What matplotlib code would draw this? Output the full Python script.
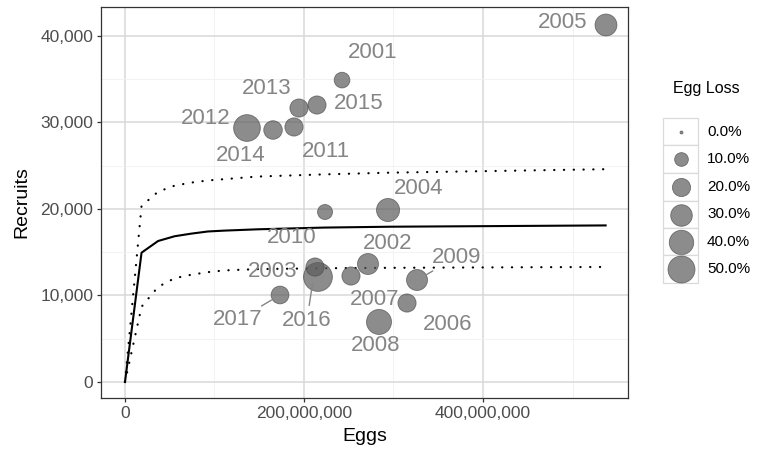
import matplotlib
matplotlib.use("Agg")
import matplotlib.pyplot as plt
from matplotlib.patches import Rectangle
from matplotlib.ticker import FuncFormatter, MultipleLocator
import numpy as np

plt.rcParams["font.family"] = ["Liberation Sans", "DejaVu Sans"]

# stock-recruit observations by year
years = [2001, 2002, 2003, 2004, 2005, 2006, 2007, 2008, 2009,
         2010, 2011, 2012, 2013, 2014, 2015, 2016, 2017]
eggs = [242.5e6, 271.5e6, 215.6e6, 293.9e6, 537.4e6, 315.1e6, 252.5e6, 283.8e6, 326.3e6,
        223.5e6, 188.8e6, 136.3e6, 194.4e6, 165.4e6, 214.5e6, 212.3e6, 173.2e6]
recruits = [34900, 13640, 12140, 19880, 41270, 9130, 12250, 6940, 11790,
            19650, 29480, 29360, 31670, 29130, 32020, 13290, 10060]
egg_loss = [14, 28, 58, 35, 31, 20, 20, 42, 28,
            12.5, 20, 49, 20, 21, 20, 20, 19]

# fitted stock-recruit curve with its upper and lower bounds
curve_eggs = [0, 18.5e6, 37e6, 55.5e6, 74e6, 92.6e6, 111e6, 148e6, 222e6, 296e6, 537e6]
curve_fit = [0, 14950, 16300, 16850, 17150, 17400, 17500, 17650, 17850, 17950, 18100]
curve_upper = [0, 20350, 22000, 22700, 23050, 23300, 23450, 23750, 24000, 24200, 24600]
curve_lower = [0, 8700, 11000, 12000, 12400, 12700, 12900, 13050, 13150, 13200, 13300]

legend_breaks = [0, 10, 20, 30, 40, 50]

# label placement, pixels right / down from each point
label_offsets = {
    2001: (31, -28), 2002: (20, -21), 2003: (-45, -5), 2004: (31, -22),
    2005: (-43, -2), 2006: (41, 21), 2007: (24, 23), 2008: (-3, 24),
    2009: (40, -23), 2010: (-33, 25), 2011: (32, 25), 2012: (-41, -10),
    2013: (-32, -20), 2014: (-32, 25), 2015: (42, -2), 2016: (-8, 53),
    2017: (-42, 25),
}
segment_years = {2009: 8, 2016: 12, 2017: 7}

PX = 0.72  # points per pixel at 100 dpi
W, H = 758, 454


def point_diameter(loss):
    return 3 + 3.39 * np.sqrt(np.asarray(loss, dtype=float))


def marker_area(loss):
    return (point_diameter(loss) * PX) ** 2


fig = plt.figure(figsize=(W / 100, H / 100), dpi=100)
fig.subplots_adjust(left=101 / W, right=628 / W, bottom=1 - 398 / H, top=1 - 7 / H)
ax = fig.add_subplot(111)

ax.set_xlim(-26.8e6, 562e6)
ax.set_ylim(-1850, 43350)

ax.xaxis.set_major_locator(MultipleLocator(200e6))
ax.xaxis.set_minor_locator(MultipleLocator(100e6))
ax.yaxis.set_major_locator(MultipleLocator(10000))
ax.yaxis.set_minor_locator(MultipleLocator(5000))
comma = FuncFormatter(lambda v, pos: f"{v:,.0f}")
ax.xaxis.set_major_formatter(comma)
ax.yaxis.set_major_formatter(comma)

ax.grid(which="major", color="#d9d9d9", lw=1.1)
ax.grid(which="minor", color="#f0f0f0", lw=0.6)
ax.set_axisbelow(True)
for sp in ax.spines.values():
    sp.set_color("#333333")
    sp.set_linewidth(0.9)
ax.tick_params(which="major", length=3, width=0.9, color="#333333",
               labelsize=12.5, labelcolor="#4d4d4d", pad=2.5)
ax.tick_params(which="minor", length=0)

ax.plot(curve_eggs, curve_fit, color="black", lw=1.5, zorder=2)
for bound in (curve_upper, curve_lower):
    ax.plot(curve_eggs, bound, color="black", lw=1.6, linestyle=(0, (0.1, 4.3)),
            dash_capstyle="round", zorder=2)

ax.scatter(eggs, recruits, s=marker_area(egg_loss), c="#5c5c5c", alpha=0.7,
           edgecolors="#4a4a4a", linewidths=0.6, zorder=3)

label_color = "#858585"
for yr, x, r in zip(years, eggs, recruits):
    dx, dy = label_offsets[yr]
    props = None
    if yr in segment_years:
        props = dict(arrowstyle="-", color=label_color, lw=1.0,
                     shrinkA=1, shrinkB=segment_years[yr])
    ax.annotate(str(yr), (x, r), xytext=(dx * PX, -dy * PX), textcoords="offset points",
                ha="center", va="center", fontsize=16, color=label_color,
                arrowprops=props, zorder=4)

ax.set_xlabel("Eggs", fontsize=14, labelpad=5)
ax.set_ylabel("Recruits", fontsize=14, labelpad=7)

# size legend drawn in pixel coordinates
leg = fig.add_axes([0, 0, 1, 1], facecolor="none")
leg.set_xlim(0, W)
leg.set_ylim(H, 0)
leg.set_axis_off()
leg.text(673, 88, "Egg Loss", fontsize=11.5, ha="left", va="center", color="black")
row_edges = [118, 145, 173, 201, 228, 255, 283]
key_x0, key_x1 = 663, 698
for i, b in enumerate(legend_breaks):
    top, bot = row_edges[i], row_edges[i + 1]
    leg.add_patch(Rectangle((key_x0, top), key_x1 - key_x0, bot - top,
                            facecolor="white", edgecolor="#dadada", lw=0.9))
    cy = (top + bot) / 2
    leg.scatter([(key_x0 + key_x1) / 2], [cy], s=marker_area(b), c="#5c5c5c", alpha=0.7,
                edgecolors="#4a4a4a", linewidths=0.6)
    leg.text(707, cy, f"{b:.1f}%", fontsize=11, ha="left", va="center", color="black")

fig.savefig("out.png", dpi=100)
